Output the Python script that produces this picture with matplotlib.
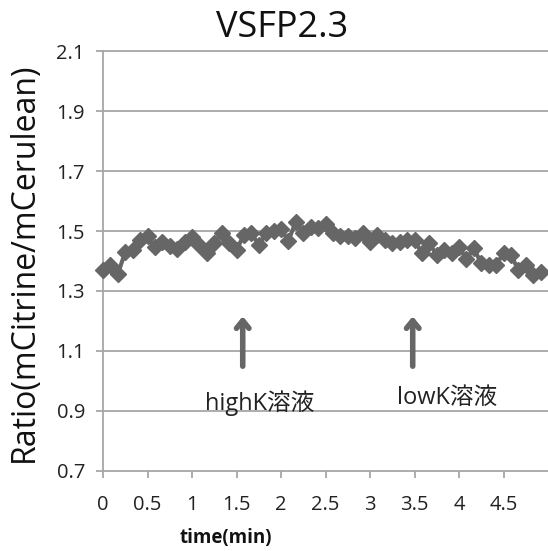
import matplotlib
matplotlib.use("Agg")
import matplotlib.pyplot as plt
import numpy as np

title = "VSFP2.3"
xlabel = "time(min)"
ylabel = "Ratio(mCitrine/mCerulean)"
step_min = 5 / 60  # 5-second sampling
ratio = [1.37, 1.387, 1.357, 1.43, 1.437, 1.47, 1.483, 1.448, 1.464, 1.45,
         1.44, 1.464, 1.48, 1.453, 1.428, 1.46, 1.493, 1.46, 1.437, 1.487,
         1.494, 1.453, 1.493, 1.5, 1.506, 1.468, 1.531,
         1.492, 1.514, 1.51, 1.523, 1.492, 1.483, 1.483, 1.476, 1.492, 1.464,
         1.487, 1.47, 1.461, 1.464, 1.47, 1.47, 1.426, 1.459, 1.42, 1.437,
         1.426, 1.448, 1.406, 1.442, 1.392, 1.387, 1.387, 1.426, 1.42, 1.37,
         1.387, 1.353, 1.364]
time = [i * step_min for i in range(len(ratio))]
xticks = [0, 0.5, 1, 1.5, 2, 2.5, 3, 3.5, 4, 4.5]
xticklabels = ["0", "0.5", "1", "1.5", "2", "2.5", "3", "3.5", "4", "4.5"]
yticks = [0.7, 0.9, 1.1, 1.3, 1.5, 1.7, 1.9, 2.1]
events = ["highK溶液", "lowK溶液"]
event_times = [1.57, 3.48]

plt.rcParams['font.family'] = ['Open Sans', 'Noto Sans CJK JP', 'DejaVu Sans']

fig = plt.figure(figsize=(5.48, 5.51), dpi=100)
ax = fig.add_axes([103/548, 80/551, 445/548, 420/551])

grid_c = '#a6a6a6'
ax.set_xlim(0, 5)
ax.set_ylim(0.7, 2.1)
ax.set_yticks(yticks)
ax.set_yticklabels([f"{v:.1f}" for v in yticks])
ax.set_xticks(xticks)
ax.set_xticklabels(xticklabels)
for y in yticks[1:]:
    ax.axhline(y, color=grid_c, lw=1.3, zorder=1, clip_on=False)

for s in ['top', 'right']:
    ax.spines[s].set_visible(False)
for s in ['left', 'bottom']:
    ax.spines[s].set_color(grid_c)
    ax.spines[s].set_linewidth(1.3)
ax.tick_params(axis='both', color=grid_c, width=1.3, length=5, labelsize=14.5,
               labelcolor='#222222')
ax.tick_params(axis='y', pad=8)
ax.tick_params(axis='x', pad=12)

ax.plot(time, ratio, color='#666666', lw=3, marker='D', markersize=8,
        markerfacecolor='#666666', markeredgecolor='#666666', zorder=3,
        clip_on=False)

text_pos = [(1.764, 0.925), (3.865, 0.945)]
for name, t, (tx, ty) in zip(events, event_times, text_pos):
    ax.annotate('', xy=(t, 1.225), xytext=(t, 1.04),
                arrowprops=dict(arrowstyle='->,head_length=0.55,head_width=0.45',
                                color='#666666', lw=4))
    ax.text(tx, ty, name, ha='center', va='center', fontsize=17, color='#222222')

fig.text(282/548, 1 - 28/551, title, ha='center', va='center', fontsize=26,
         color='#111111')
fig.text(226/548, 1 - 538/551, xlabel, ha='center', va='center', fontsize=13.5,
         fontweight='bold', color='#111111')
fig.text(24/548, 1 - 262/551, ylabel, ha='center', va='center', fontsize=23,
         rotation=90, color='#111111')

fig.savefig('out.png', dpi=100)
